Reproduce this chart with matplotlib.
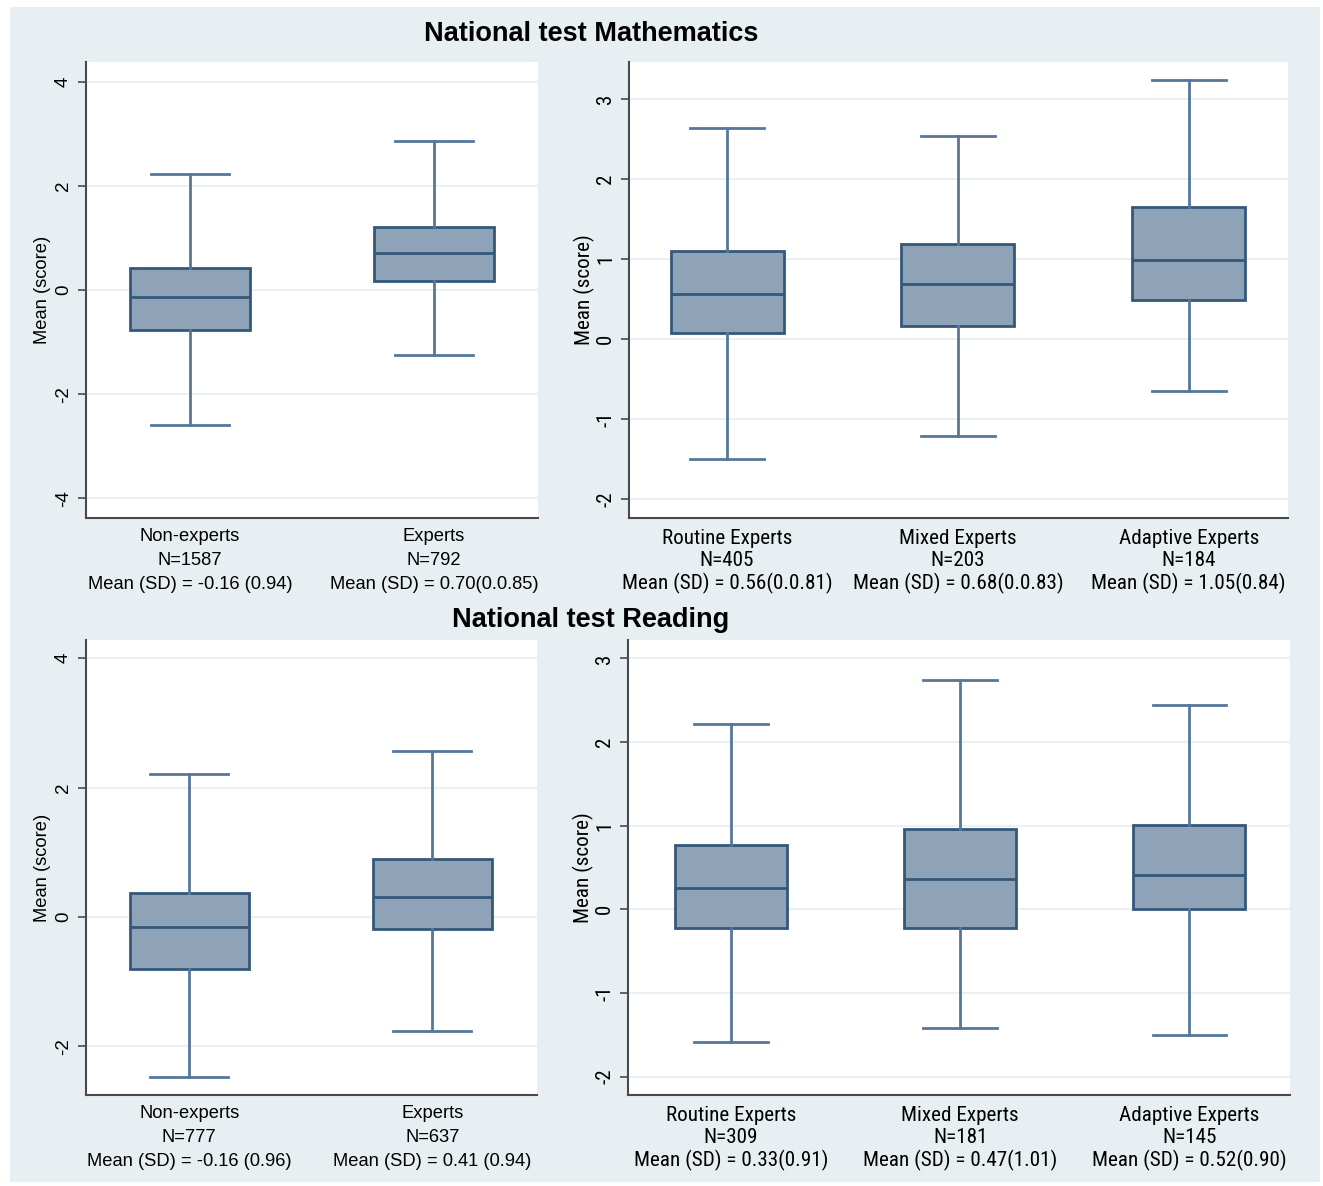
import matplotlib.pyplot as plt
from matplotlib.patches import Rectangle

# Box summaries per panel: lower whisker, Q1, median, Q3, upper whisker
math_groups = ["Non-experts", "Experts"]
math_n = [1587, 792]
math_mean_sd = ["-0.16 (0.94)", "0.70(0.0.85)"]
math_whislo = [-2.60, -1.25]
math_q1 = [-0.77, 0.17]
math_med = [-0.13, 0.71]
math_q3 = [0.42, 1.21]
math_whishi = [2.23, 2.87]

math_types = ["Routine Experts", "Mixed Experts", "Adaptive Experts"]
math_types_n = [405, 203, 184]
math_types_mean_sd = ["0.56(0.0.81)", "0.68(0.0.83)", "1.05(0.84)"]
math_types_whislo = [-1.50, -1.21, -0.65]
math_types_q1 = [0.075, 0.16, 0.49]
math_types_med = [0.56, 0.69, 0.99]
math_types_q3 = [1.10, 1.19, 1.65]
math_types_whishi = [2.64, 2.54, 3.24]

read_groups = ["Non-experts", "Experts"]
read_n = [777, 637]
read_mean_sd = ["-0.16 (0.96)", "0.41 (0.94)"]
read_whislo = [-2.47, -1.76]
read_q1 = [-0.81, -0.19]
read_med = [-0.16, 0.31]
read_q3 = [0.37, 0.90]
read_whishi = [2.21, 2.57]

read_types = ["Routine Experts", "Mixed Experts", "Adaptive Experts"]
read_types_n = [309, 181, 145]
read_types_mean_sd = ["0.33(0.91)", "0.47(1.01)", "0.52(0.90)"]
read_types_whislo = [-1.59, -1.42, -1.50]
read_types_q1 = [-0.22, -0.22, 0.0]
read_types_med = [0.26, 0.36, 0.41]
read_types_q3 = [0.77, 0.96, 1.01]
read_types_whishi = [2.21, 2.74, 2.44]

BG = "#e8eff2"
FILL = "#8ea3b7"
EDGE = "#34587a"
WHISK = "#55779a"
GRID = "#eaf1f4"
AXIS = "#4a4a4a"

plt.rcParams["font.family"] = ["Liberation Sans", "DejaVu Sans"]

fig = plt.figure(figsize=(13.23, 11.86), dpi=100)
fig.patch.set_facecolor("white")
fig.patches.append(Rectangle((10 / 1323, 4 / 1186), 1310 / 1323, 1175 / 1186,
                             transform=fig.transFigure, facecolor=BG,
                             edgecolor="none", zorder=-10))


def panel(rect, labels, ns, msd, lo, q1, med, q3, hi, ylim, yticks, xlim,
          font, fs, tick_fs, spacing, ypad, xpad):
    ax = fig.add_axes(rect)
    stats = []
    for i in range(len(labels)):
        stats.append({"whislo": lo[i], "q1": q1[i], "med": med[i],
                      "q3": q3[i], "whishi": hi[i], "fliers": []})
    pos = list(range(1, len(labels) + 1))
    ax.bxp(stats, positions=pos, widths=0.49, capwidths=0.32,
           showfliers=False, patch_artist=True,
           boxprops=dict(facecolor=FILL, edgecolor=EDGE, linewidth=2.0),
           medianprops=dict(color=EDGE, linewidth=2.0),
           whiskerprops=dict(color=WHISK, linewidth=2.0),
           capprops=dict(color=WHISK, linewidth=2.0))
    ax.set_xlim(*xlim)
    ax.set_ylim(*ylim)
    ax.set_yticks(yticks)
    ax.set_yticklabels([str(t) for t in yticks], rotation=90, va="center",
                       fontsize=tick_fs, family=font)
    ax.tick_params(axis="y", length=6, width=1.2, color=AXIS, pad=4)
    ax.set_xticks(pos)
    ax.set_xticklabels(
        [f"{l}\nN={n}\nMean (SD) = {m}" for l, n, m in zip(labels, ns, msd)],
        fontsize=fs, family=font, linespacing=spacing)
    ax.tick_params(axis="x", length=0, pad=xpad)
    ax.grid(axis="y", color=GRID, linewidth=1.5)
    ax.set_axisbelow(True)
    for side in ["top", "right"]:
        ax.spines[side].set_visible(False)
    for side in ["left", "bottom"]:
        ax.spines[side].set_color(AXIS)
        ax.spines[side].set_linewidth(1.5)
    ax.set_ylabel("Mean (score)", fontsize=fs, family=font, labelpad=ypad)
    return ax


narrow = ["Liberation Sans Narrow", "Roboto Condensed", "Liberation Sans",
          "DejaVu Sans"]
wide = ["Liberation Sans", "DejaVu Sans"]

panel([86 / 1323, 1 - 518 / 1186, 452 / 1323, 456 / 1186],
      math_groups, math_n, math_mean_sd,
      math_whislo, math_q1, math_med, math_q3, math_whishi,
      (-4.38, 4.38), [-4, -2, 0, 2, 4], (0.574, 2.426),
      wide, 13.2, 13.5, 1.55, 3, 7)

panel([629 / 1323, 1 - 518 / 1186, 659 / 1323, 456 / 1186],
      math_types, math_types_n, math_types_mean_sd,
      math_types_whislo, math_types_q1, math_types_med, math_types_q3,
      math_types_whishi,
      (-2.24, 3.46), [-2, -1, 0, 1, 2, 3], (0.575, 3.43),
      narrow, 15.2, 15, 1.18, 1, 8)

panel([86 / 1323, 1 - 1095 / 1186, 451 / 1323, 455 / 1186],
      read_groups, read_n, read_mean_sd,
      read_whislo, read_q1, read_med, read_q3, read_whishi,
      (-2.75, 4.28), [-2, 0, 2, 4], (0.576, 2.43),
      wide, 13.2, 13.5, 1.55, 3, 7)

panel([628 / 1323, 1 - 1095 / 1186, 662 / 1323, 455 / 1186],
      read_types, read_types_n, read_types_mean_sd,
      read_types_whislo, read_types_q1, read_types_med, read_types_q3,
      read_types_whishi,
      (-2.22, 3.22), [-2, -1, 0, 1, 2, 3], (0.55, 3.44),
      narrow, 15.2, 15, 1.18, 1, 8)

fig.text(591 / 1323, 1 - 34 / 1186, "National test Mathematics",
         ha="center", va="center", fontsize=19.5, fontweight="bold")
fig.text(591 / 1323, 1 - 620 / 1186, "National test Reading",
         ha="center", va="center", fontsize=19.5, fontweight="bold")

fig.savefig("out.png", dpi=100, facecolor=fig.get_facecolor())
